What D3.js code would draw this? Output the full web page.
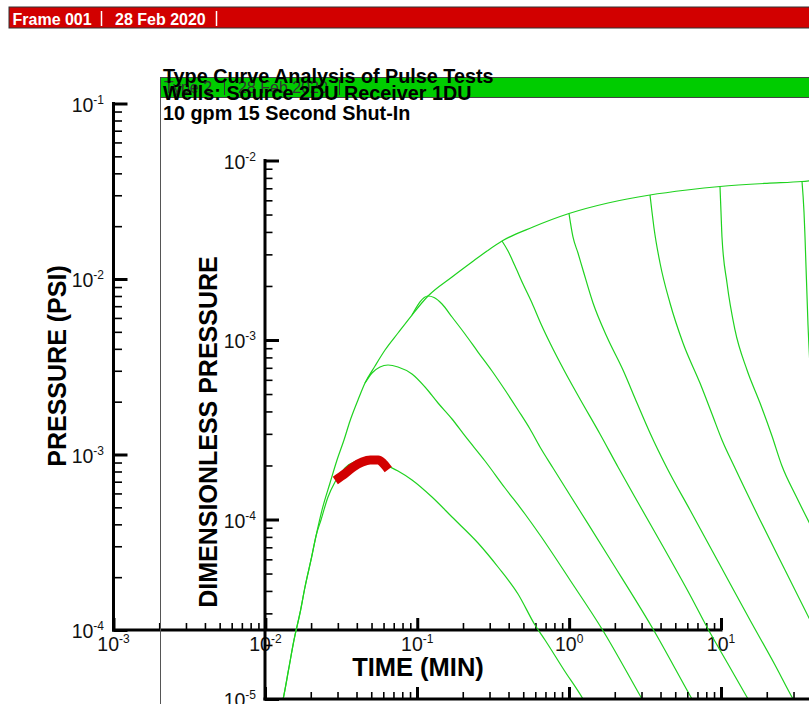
<!DOCTYPE html>
<html><head><meta charset="utf-8">
<script src="https://cdn.jsdelivr.net/npm/d3@7"></script>
<style>
html,body{margin:0;padding:0;background:#fff;}
svg{display:block;}
text{font-family:"Liberation Sans",Arial,Helvetica,sans-serif;}
</style></head><body>
<svg id="chart" width="809" height="704"></svg>
<script>
// ---------- text ----------
const frameHeader = ["Frame 001", "28 Feb 2020"];
const innerFrameHeader = ["Type 2", "28 Feb 2020"];
const titleLines = ["Type Curve Analysis of Pulse Tests", "Wells: Source 2DU Receiver 1DU", "10 gpm 15 Second Shut-In"];
const outerYTitle = "PRESSURE (PSI)";
const innerYTitle = "DIMENSIONLESS PRESSURE";
const xTitle = "TIME (MIN)";

// ---------- tick decades ----------
const outerXDecades = [-3, -2, -1, 0, 1];
const outerYDecades = [-4, -3, -2, -1];
const innerXDecades = [-2, -1, 0, 1, 2];
const innerYDecades = [-5, -4, -3, -2];

// ---------- measured data (outer axes: time min, pressure psi) ----------
const measuredTime = [0.02888, 0.03360, 0.03793, 0.04346, 0.04907, 0.05538, 0.05974, 0.06445];
const measuredPressure = [7.11e-4, 7.80e-4, 8.49e-4, 9.06e-4, 9.30e-4, 9.30e-4, 8.89e-4, 8.21e-4];

// ---------- type curves (inner axes: time, dimensionless pressure) ----------
const envelope = [[0.01294,9.38e-6],[0.01319,1.009e-5],[0.01428,1.451e-5],[0.01552,2.132e-5],[0.01700,3.014e-5],[0.01833,4.207e-5],[0.02029,6.206e-5],[0.02165,8.09e-5],[0.02371,1.129e-4],[0.02677,1.597e-4],[0.02977,2.146e-4],[0.03309,2.773e-4],[0.03624,3.537e-4],[0.04091,4.631e-4],[0.04549,5.758e-4],[0.05294,7.164e-4],[0.06161,8.796e-4],[0.07499,1.094e-3],[0.09271,1.378e-3],[0.1182,1.758e-3],[0.1700,2.244e-3],[0.2301,2.720e-3],[0.2888,3.131e-3],[0.3624,3.560e-3],[0.5797,4.261e-3],[1.0,5.066e-3],[1.805,5.798e-3],[3.412,6.424e-3],[5.973,6.848e-3],[9.849,7.162e-3],[20.07,7.464e-3],[34.12,7.638e-3],[39.7,7.737e-3]];
const pulseCurve0 = [[0.01294,9.38e-6],[0.01319,1.009e-5],[0.01428,1.451e-5],[0.01552,2.132e-5],[0.01700,3.014e-5],[0.01833,4.207e-5],[0.02029,6.206e-5],[0.02165,8.09e-5],[0.02335,9.94e-5],[0.02597,1.334e-4],[0.02888,1.617e-4],[0.03360,1.936e-4],[0.03970,2.118e-4],[0.04691,2.173e-4],[0.05538,2.118e-4],[0.06445,1.986e-4],[0.07499,1.863e-4],[0.09271,1.660e-4],[0.1255,1.334e-4],[0.1700,1.032e-4],[0.2520,7.396e-5],[0.3412,5.437e-5],[0.4619,3.846e-5],[0.5975,2.584e-5],[0.6954,2.132e-5],[0.9271,1.451e-5],[1.236,1.0e-5],[1.314,9.14e-6]];
const pulseCurve1 = [[0.04549,5.758e-4],[0.05057,6.548e-4],[0.05709,7.073e-4],[0.06445,7.256e-4],[0.07499,7.073e-4],[0.09271,6.463e-4],[0.1129,5.471e-4],[0.1375,4.457e-4],[0.1700,3.630e-4],[0.2069,2.919e-4],[0.2802,2.118e-4],[0.3793,1.498e-4],[0.5134,1.073e-4],[0.6445,8.195e-5],[1.015,4.603e-5],[1.648,2.455e-5],[3.022,1.0e-5],[3.211,9.14e-6]];
const pulseCurve2 = [[0.09271,1.378e-3],[0.1182,1.758e-3],[0.1294,1.725e-3],[0.1461,1.587e-3],[0.1700,1.343e-3],[0.2069,1.080e-3],[0.2520,8.57e-4],[0.3114,6.718e-4],[0.3793,5.264e-4],[0.4619,4.074e-4],[0.5539,3.193e-4],[0.6445,2.535e-4],[0.7849,1.936e-4],[1.181,1.115e-4],[1.861,6.024e-5],[3.570,2.455e-5],[6.445,1.0e-5],[6.846,9.14e-6]];
const pulseCurve3 = [[0.3624,3.560e-3],[0.3970,3.131e-3],[0.4414,2.584e-3],[0.4983,2.051e-3],[0.5710,1.607e-3],[0.6543,1.228e-3],[0.7499,9.62e-4],[0.9412,6.632e-4],[1.181,4.691e-4],[1.599,2.995e-4],[2.101,1.961e-4],[2.931,1.189e-4],[4.281,6.76e-5],[6.254,3.797e-5],[8.212,2.455e-5],[11.12,1.567e-5],[15.06,1.0e-5],[15.99,9.14e-6]];
const pulseCurve4 = [[1.0,5.066e-3],[1.062,3.750e-3],[1.146,3.052e-3],[1.236,2.455e-3],[1.439,1.607e-3],[1.778,1.039e-3],[2.266,6.805e-4],[2.802,4.457e-4],[3.412,3.034e-4],[4.412,1.936e-4],[6.254,1.129e-4],[9.849,5.578e-5],[15.51,2.754e-5],[22.66,1.547e-5],[29.77,1.0e-5],[31.62,9.14e-6]];
const pulseCurve5 = [[3.412,6.424e-3],[3.516,5.165e-3],[3.624,4.207e-3],[3.970,2.685e-3],[4.617,1.607e-3],[5.623,9.62e-4],[7.273,5.758e-4],[8.726,3.871e-4],[10.15,2.773e-4],[12.36,1.936e-4],[18.06,9.94e-5],[26.37,5.233e-5],[39.7,2.617e-5]];
const pulseCurve6 = [[9.849,7.162e-3],[10.0,5.165e-3],[10.15,3.750e-3],[10.95,2.077e-3],[12.36,1.137e-3],[14.83,6.805e-4],[18.06,4.457e-4],[21.65,2.919e-4],[25.19,1.986e-4],[31.14,1.351e-4],[39.7,8.97e-5]];
const pulseCurve7 = [[34.12,7.638e-3],[35.16,5.165e-3],[35.70,3.750e-3],[37.36,1.213e-3],[39.7,4.631e-4]];

// ---------- drawing ----------
const svg = d3.select("#chart");
svg.append("rect").attr("width", 809).attr("height", 704).attr("fill", "#fff");

const outerX = d3.scaleLog().domain([1e-3, 10]).range([113.5, 721]);
const outerY = d3.scaleLog().domain([1e-4, 1e-1]).range([630, 103.5]);
const innerX = d3.scaleLog().domain([1e-2, 100]).range([265, 873]);
const innerY = d3.scaleLog().domain([1e-5, 1e-2]).range([699, 160.5]);

function minors(decs) {
  const out = [];
  decs.slice(0, -1).forEach(e => { for (let m = 2; m <= 9; m++) out.push(m * Math.pow(10, e)); });
  return out;
}
function majors(decs) { return decs.map(e => Math.pow(10, e)); }

function ticks(g, axisFn, scale, vals, size, w) {
  g.call(axisFn(scale).tickValues(vals).tickSize(size).tickSizeOuter(0).tickFormat(""));
  g.select(".domain").remove();
  g.selectAll(".tick line").attr("stroke", "#000").attr("stroke-width", w);
}
function supLabel(g, x, y, e, anchor) {
  const t = g.append("text").attr("x", x).attr("y", y).attr("text-anchor", anchor)
    .attr("font-size", 19.5).attr("fill", "#111");
  t.append("tspan").text("10");
  t.append("tspan").attr("font-size", 12).attr("dy", -8).text(String(e));
}

// ===== Outer frame =====
const outer = svg.append("g");
// header bar
outer.append("rect").attr("x", 9).attr("y", 7).attr("width", 805).attr("height", 21)
  .attr("fill", "#d20000").attr("stroke", "#333").attr("stroke-width", 1);
outer.append("text").attr("x", 12.5).attr("y", 24.5).attr("fill", "#fff").attr("font-size", 16)
  .attr("font-weight", "bold").text(frameHeader[0]);
outer.append("text").attr("x", 115).attr("y", 24.5).attr("fill", "#fff").attr("font-size", 16)
  .attr("font-weight", "bold").text(frameHeader[1]);
[101.5, 216.5].forEach(x => outer.append("line").attr("x1", x).attr("x2", x).attr("y1", 11).attr("y2", 26)
  .attr("stroke", "#fff").attr("stroke-width", 1.5));

// outer y axis
ticks(outer.append("g").attr("transform", `translate(${outerX(1e-3)},0)`), d3.axisRight, outerY, minors(outerYDecades), 8.5, 1.6);
ticks(outer.append("g").attr("transform", `translate(${outerX(1e-3)},0)`), d3.axisRight, outerY, majors(outerYDecades), 14, 3);
outer.append("line").attr("x1", outerX(1e-3)).attr("x2", outerX(1e-3)).attr("y1", outerY(1e-1) - 1.5).attr("y2", outerY(1e-4) + 1.5)
  .attr("stroke", "#000").attr("stroke-width", 3);
outerYDecades.forEach(e => supLabel(outer, 104, outerY(Math.pow(10, e)) + 8, e, "end"));

// outer x axis
ticks(outer.append("g").attr("transform", `translate(0,${outerY(1e-4)})`), d3.axisTop, outerX, minors(outerXDecades), 7, 1.6);
ticks(outer.append("g").attr("transform", `translate(0,${outerY(1e-4)})`), d3.axisTop, outerX, majors(outerXDecades), 12, 3);
outer.append("line").attr("x1", outerX(1e-3) - 1.5).attr("x2", outerX(10) + 1.5).attr("y1", outerY(1e-4)).attr("y2", outerY(1e-4))
  .attr("stroke", "#000").attr("stroke-width", 3);
outerXDecades.forEach(e => supLabel(outer, outerX(Math.pow(10, e)), 651, e, "middle"));

outer.append("text").attr("transform", "translate(66,366) rotate(-90)").attr("text-anchor", "middle")
  .attr("font-size", 25).attr("font-weight", "bold").attr("fill", "#000").text(outerYTitle);
outer.append("text").attr("x", 418).attr("y", 676).attr("text-anchor", "middle")
  .attr("font-size", 25.5).attr("font-weight", "bold").attr("fill", "#000").text(xTitle);

// ===== Inner frame =====
const inner = svg.append("g");
inner.append("line").attr("x1", 160.5).attr("x2", 160.5).attr("y1", 77).attr("y2", 704).attr("stroke", "#555").attr("stroke-width", 1);
inner.append("rect").attr("x", 160.5).attr("y", 77.5).attr("width", 660).attr("height", 20)
  .attr("fill", "#00cc00").attr("stroke", "#444").attr("stroke-width", 1);
inner.append("text").attr("x", 164).attr("y", 93).attr("fill", "#333").attr("font-size", 16).text(innerFrameHeader[0]);
inner.append("text").attr("x", 238).attr("y", 93).attr("fill", "#333").attr("font-size", 16).text(innerFrameHeader[1]);
[224.5, 339.5].forEach(x => inner.append("line").attr("x1", x).attr("x2", x).attr("y1", 80).attr("y2", 95)
  .attr("stroke", "#333").attr("stroke-width", 1));
[82.5, 100, 120].forEach((y, i) => inner.append("text").attr("x", 163).attr("y", y)
  .attr("font-size", 19.8).attr("font-weight", "bold").attr("fill", "#000").text(titleLines[i]));

// type curves
svg.append("defs").append("clipPath").attr("id", "innerClip").append("rect")
  .attr("x", innerX(1e-2)).attr("y", innerY(1e-2)).attr("width", 809 - innerX(1e-2)).attr("height", innerY(1e-5) - innerY(1e-2));
const curves = [envelope, pulseCurve0, pulseCurve1, pulseCurve2, pulseCurve3, pulseCurve4, pulseCurve5, pulseCurve6, pulseCurve7];
const tline = d3.line().x(d => innerX(d[0])).y(d => innerY(d[1])).curve(d3.curveMonotoneX);
inner.append("g").attr("clip-path", "url(#innerClip)").selectAll("path").data(curves).join("path")
  .attr("d", tline).attr("fill", "none").attr("stroke", "#1fd21f").attr("stroke-width", 1.2);

// inner y axis
ticks(inner.append("g").attr("transform", `translate(${innerX(1e-2)},0)`), d3.axisRight, innerY, minors(innerYDecades), 7.5, 1.6);
ticks(inner.append("g").attr("transform", `translate(${innerX(1e-2)},0)`), d3.axisRight, innerY, majors(innerYDecades), 14, 3);
inner.append("line").attr("x1", innerX(1e-2)).attr("x2", innerX(1e-2)).attr("y1", innerY(1e-2) - 1.5).attr("y2", innerY(1e-5) + 1.5)
  .attr("stroke", "#000").attr("stroke-width", 3);
innerYDecades.forEach(e => supLabel(inner, 256, innerY(Math.pow(10, e)) + 8, e, "end"));

// inner x axis
const innerXMinor = minors(innerXDecades).filter(v => innerX(v) < 809);
ticks(inner.append("g").attr("transform", `translate(0,${innerY(1e-5)})`), d3.axisTop, innerX, innerXMinor, 7, 1.6);
ticks(inner.append("g").attr("transform", `translate(0,${innerY(1e-5)})`), d3.axisTop, innerX, majors(innerXDecades).filter(v => innerX(v) < 809), 12, 3);
inner.append("line").attr("x1", innerX(1e-2) - 1.5).attr("x2", 809).attr("y1", innerY(1e-5)).attr("y2", innerY(1e-5))
  .attr("stroke", "#000").attr("stroke-width", 3);

inner.append("text").attr("transform", `translate(217,432) rotate(-90)`).attr("text-anchor", "middle")
  .attr("font-size", 25).attr("font-weight", "bold").attr("fill", "#000").text(innerYTitle);

// measured data (outer frame's data, drawn above the type curves as in the reference)
svg.append("path")
  .datum(measuredTime.map((t, i) => [t, measuredPressure[i]]))
  .attr("d", d3.line().x(d => outerX(d[0])).y(d => outerY(d[1])).curve(d3.curveMonotoneX))
  .attr("fill", "none").attr("stroke", "#d20000").attr("stroke-width", 9).attr("stroke-linejoin", "round");
</script>
</body></html>
